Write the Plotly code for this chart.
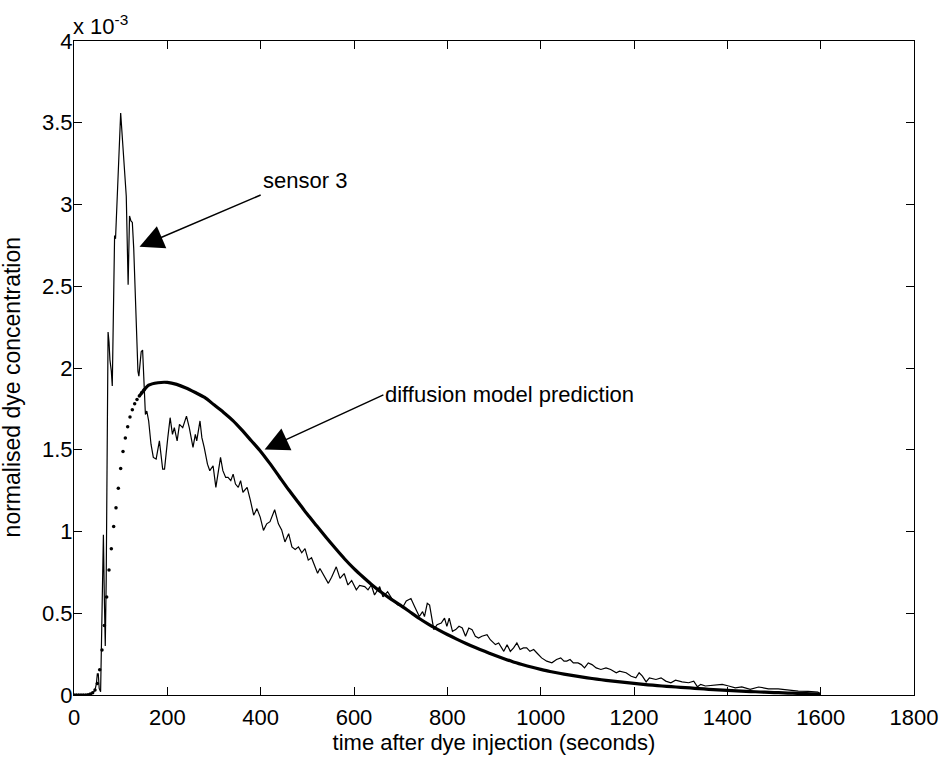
import plotly.graph_objects as go

# ---- data (concentration values in units of 1e-3) ----
sensor_t = [0, 10, 20, 30, 40, 45, 48, 50, 52, 54, 57, 60, 63, 65, 67, 69, 73, 75, 77, 80, 82,
            87, 89, 100, 107, 112, 116, 119, 122, 125, 128, 137, 139, 144, 147, 151, 153, 156, 160,
            165, 170, 176, 183, 190, 194, 201, 206, 211, 215, 221, 226, 233, 241, 247, 255, 260,
            263, 270, 274, 279, 286, 291, 298, 304, 309, 314, 319, 325, 330, 336, 341, 346, 352,
            357, 362, 367, 371, 378, 385, 392, 399, 406, 413, 420, 430, 438, 445, 452, 460, 467,
            474, 481, 488, 495, 502, 509, 516, 522, 527, 534, 545, 552, 562, 570, 579, 587, 595,
            605, 612, 623, 630, 637, 644, 655, 662, 672, 683, 694, 705, 712, 722, 730, 740, 747,
            751, 757, 762, 771, 778, 787, 794, 799, 804, 811, 818, 825, 832, 839, 846, 853, 860,
            867, 874, 885, 892, 903, 910, 921, 928, 935, 942, 949, 956, 963, 970, 977, 985, 992,
            1002, 1013, 1024, 1034, 1043, 1050, 1056, 1063, 1070, 1080, 1087, 1094, 1102, 1110,
            1119, 1129, 1140, 1150, 1162, 1169, 1183, 1194, 1204, 1211, 1218, 1226, 1233, 1247,
            1258, 1268, 1279, 1289, 1303, 1317, 1328, 1336, 1343, 1353, 1367, 1389, 1403, 1417,
            1431, 1449, 1467, 1488, 1509, 1530, 1552, 1573, 1594, 1600]
sensor_c = [0, 0, 0, 0.003, 0.01, 0.03, 0.07, 0.13, 0.13, 0.04, 0.02, 0.40, 0.98, 0.60, 0.30, 0.70,
            2.22, 2.16, 2.05, 1.98, 1.89, 2.81, 2.79, 3.56, 3.24, 3.05, 2.51, 2.93, 2.90, 2.89, 2.73,
            1.98, 1.95, 2.10, 2.11, 1.90, 1.716, 1.737, 1.676, 1.534, 1.453, 1.443, 1.554, 1.382,
            1.382, 1.574, 1.696, 1.594, 1.635, 1.554, 1.655, 1.635, 1.706, 1.635, 1.514, 1.594,
            1.554, 1.676, 1.574, 1.514, 1.412, 1.372, 1.402, 1.27, 1.351, 1.453, 1.372, 1.331,
            1.331, 1.311, 1.351, 1.29, 1.27, 1.311, 1.24, 1.26, 1.27, 1.19, 1.10, 1.14, 1.088,
            1.007, 1.047, 1.06, 1.133, 1.047, 1.01, 0.936, 0.987, 0.906, 0.89, 0.906, 0.87, 0.895,
            0.825, 0.84, 0.784, 0.745, 0.774, 0.735, 0.683, 0.72, 0.784, 0.713, 0.743, 0.673, 0.70,
            0.643, 0.67, 0.663, 0.643, 0.673, 0.612, 0.663, 0.60, 0.632, 0.58, 0.551, 0.54, 0.575,
            0.59, 0.54, 0.48, 0.51, 0.48, 0.561, 0.55, 0.40, 0.43, 0.44, 0.47, 0.42, 0.47, 0.389,
            0.40, 0.42, 0.41, 0.359, 0.41, 0.40, 0.359, 0.348, 0.359, 0.369, 0.338, 0.308, 0.318,
            0.267, 0.308, 0.267, 0.288, 0.318, 0.278, 0.288, 0.288, 0.267, 0.278, 0.257, 0.227,
            0.207, 0.197, 0.217, 0.227, 0.207, 0.207, 0.217, 0.196, 0.196, 0.186, 0.166, 0.196,
            0.186, 0.166, 0.156, 0.166, 0.156, 0.136, 0.146, 0.136, 0.115, 0.105, 0.136, 0.115,
            0.08, 0.105, 0.095, 0.105, 0.085, 0.075, 0.091, 0.08, 0.075, 0.085, 0.05, 0.065,
            0.055, 0.06, 0.065, 0.055, 0.044, 0.05, 0.035, 0.049, 0.038, 0.038, 0.03, 0.024,
            0.022, 0.018, 0.004]

# model prediction: early samples (drawn as separate dots)
model_dot_t = [0, 5, 10, 15, 20, 25, 30, 35, 40, 45, 50, 55, 60, 65, 70, 75, 80, 85, 90, 95,
               100, 105, 110, 115, 120, 125, 130, 135, 140, 145, 150]
model_dot_c = [0, 0, 0, 0, 0, 0, 0.002, 0.006, 0.014, 0.03, 0.07, 0.155, 0.275, 0.425, 0.60,
               0.765, 0.895, 1.03, 1.145, 1.265, 1.385, 1.49, 1.572, 1.64, 1.70, 1.745, 1.781,
               1.807, 1.828, 1.848, 1.865]
# model prediction: later samples (dense dots, merging into a thick line)
model_t = [140, 160, 180, 200, 220, 240, 260, 280, 300, 320, 340, 360, 380, 400, 420, 440, 460,
           480, 500, 520, 540, 560, 580, 600, 620, 640, 660, 680, 700, 720, 740, 760, 780, 800,
           820, 840, 860, 880, 900, 920, 940, 960, 980, 1000, 1020, 1040, 1060, 1080, 1100, 1120,
           1140, 1160, 1180, 1200, 1220, 1240, 1260, 1280, 1300, 1320, 1340, 1360, 1380, 1400,
           1420, 1440, 1460, 1480, 1500, 1520, 1540, 1560, 1580, 1600]
model_c = [1.828, 1.895, 1.91, 1.912, 1.90, 1.878, 1.85, 1.82, 1.775, 1.73, 1.68, 1.62, 1.555,
           1.49, 1.415, 1.335, 1.255, 1.18, 1.105, 1.035, 0.965, 0.897, 0.832, 0.773, 0.72, 0.67,
           0.625, 0.585, 0.548, 0.508, 0.468, 0.432, 0.40, 0.37, 0.342, 0.315, 0.29, 0.267, 0.245,
           0.224, 0.204, 0.187, 0.171, 0.157, 0.144, 0.133, 0.123, 0.114, 0.105, 0.097, 0.09,
           0.083, 0.077, 0.071, 0.065, 0.06, 0.055, 0.051, 0.047, 0.043, 0.039, 0.035, 0.031,
           0.028, 0.025, 0.022, 0.02, 0.017, 0.015, 0.013, 0.011, 0.009, 0.007, 0.005]

x_ticks = [0, 200, 400, 600, 800, 1000, 1200, 1400, 1600, 1800]
y_ticks = [0, 0.5, 1, 1.5, 2, 2.5, 3, 3.5, 4]
y_tick_text = ["0", "0.5", "1", "1.5", "2", "2.5", "3", "3.5", "4"]

FONT = "Liberation Sans, Arial, Helvetica, sans-serif"
FS = 22

fig = go.Figure()
fig.add_trace(go.Scatter(x=sensor_t, y=sensor_c, mode="lines",
                         line=dict(color="black", width=1.2), name="sensor 3",
                         showlegend=False))
fig.add_trace(go.Scatter(x=model_t, y=model_c, mode="lines",
                         line=dict(color="black", width=3.2, shape="spline", smoothing=0.6),
                         name="diffusion model prediction", showlegend=False))
fig.add_trace(go.Scatter(x=model_dot_t, y=model_dot_c, mode="markers",
                         marker=dict(color="black", size=3.5), name="diffusion model prediction",
                         showlegend=False))

axis_common = dict(showline=True, linecolor="black", linewidth=1, mirror="ticks",
                   ticks="inside", ticklen=8, tickcolor="black", tickwidth=1,
                   showgrid=False, zeroline=False,
                   tickfont=dict(family=FONT, size=FS, color="black"))

fig.update_xaxes(range=[0, 1800], tickvals=x_ticks, ticklabelstandoff=3,
                 title=dict(text="time after dye injection (seconds)",
                            font=dict(family=FONT, size=FS, color="black"), standoff=2),
                 **axis_common)
fig.update_yaxes(range=[0, 4], tickvals=y_ticks, ticktext=y_tick_text, ticklabelstandoff=-4,
                 **axis_common)

ann_font = dict(family=FONT, size=FS, color="black")
# y-axis title
fig.add_annotation(xref="paper", yref="paper", x=-0.0733, y=0.471, xanchor="center",
                   yanchor="middle", textangle=-90, text="normalised dye concentration",
                   showarrow=False, font=dict(family=FONT, size=23, color="black"))
fig.add_annotation(xref="paper", yref="paper", x=0, y=1, xanchor="left", yanchor="bottom",
                   text="x 10<sup>-3</sup>", showarrow=False, font=ann_font, xshift=-3)
# labelled arrows: head at the curve, text box starting at the arrow tail
fig.add_annotation(x=140.4, y=2.742, ax=400, ay=3.058, axref="x", ayref="y", text="sensor 3",
                   xanchor="left", yanchor="bottom", font=ann_font,
                   showarrow=True, arrowhead=2, arrowsize=3.2, arrowwidth=1.5, arrowcolor="black")
fig.add_annotation(x=408.5, y=1.502, ax=663, ay=1.836, axref="x", ayref="y",
                   text="diffusion model prediction", xanchor="left", yanchor="middle",
                   font=ann_font,
                   showarrow=True, arrowhead=2, arrowsize=3.2, arrowwidth=1.5, arrowcolor="black")

fig.update_layout(width=950, height=760, margin=dict(l=74, r=30, t=41, b=61),
                  paper_bgcolor="white", plot_bgcolor="white", showlegend=False)

fig.write_html("out.html")
